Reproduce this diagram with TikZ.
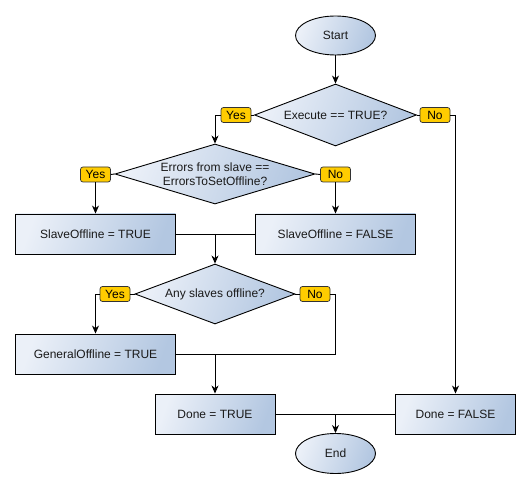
\documentclass[tikz,border=0pt]{standalone}
\usepackage{fontspec}
\setmainfont{Liberation Sans}
\usetikzlibrary{shapes.geometric,arrows.meta,calc}
\definecolor{gl}{HTML}{EBF0F8}
\definecolor{gd}{HTML}{B3C7E1}
\definecolor{lab}{HTML}{FFCC00}
\definecolor{txt}{HTML}{1A1A1A}
\tikzset{
  gshade/.style={left color=gl, right color=gd, shading angle=70, draw=black, line width=0.9pt},
  procbox/.style={gshade, rectangle, minimum width=#1, minimum height=40pt, inner sep=0pt, text=txt, font=\fontsize{12}{14}\selectfont},
  procbox/.default=160pt,
  term/.style={gshade, ellipse, minimum width=80pt, minimum height=39pt, inner sep=0pt, text=txt, font=\fontsize{12}{14}\selectfont},
  dia/.style={gshade, diamond, inner sep=0pt},
  diatext/.style={align=center, text=txt, font=\fontsize{12}{14.5}\selectfont, inner sep=0pt},
  yn/.style={draw=black!80, fill=lab, rounded corners=2.5pt, minimum width=30pt, minimum height=15pt, inner sep=0pt, line width=0.7pt, font=\fontsize{12}{14}\selectfont},
  conn/.style={line width=0.9pt, draw=black},
  arr/.style={conn, -{Stealth[length=8pt,width=7pt,inset=2.5pt]}},
}
\begin{document}
\begin{tikzpicture}[x=1pt,y=-1pt]
\useasboundingbox (0,0) rectangle (530,489);
% terminals
\node[term] (start) at (335.5,35.5) {Start};
\node[term, minimum height=40pt] (end) at (335.5,453.5) {End};
% decision 1
\node[dia, minimum width=162pt, minimum height=62pt] (d1) at (335.5,115) {};
\node[diatext] (d1t) at (d1) {Execute == TRUE?};
\node[yn] (y1) at (236,115) {Yes};
\node[yn] (n1) at (435,115) {No};
% decision 2
\node[dia, minimum width=200pt, minimum height=60pt] (d2) at (215,174) {};
\node[diatext] (d2t) at (d2) {Errors from slave ==\\ErrorsToSetOffline?};
\node[yn] (y2) at (95.5,174.5) {Yes};
\node[yn] (n2) at (335.5,174.5) {No};
% boxes 1, 2
\node[procbox] (b1) at (95.5,234) {SlaveOffline = TRUE};
\node[procbox] (b2) at (335.5,234) {SlaveOffline = FALSE};
% decision 3
\node[dia, minimum width=160pt, minimum height=60pt] (d3) at (215,294) {};
\node[diatext] (d3t) at (d3) {Any slaves offline?};
\node[yn] (y3) at (115,294) {Yes};
\node[yn] (n3) at (315,294) {No};
% box 3
\node[procbox] (b3) at (95.5,354) {GeneralOffline = TRUE};
% done boxes
\node[procbox=120pt] (dt) at (215,414) {Done = TRUE};
\node[procbox=120pt] (df) at (455.5,414) {Done = FALSE};
% junction coordinates
\coordinate (m1) at (b1.east -| d3.north);
\coordinate (m2) at (b3.east -| dt.north);
\coordinate (m3) at (dt.east -| end.north);
% connectors
\draw[arr] (start) -- (d1);
\draw[conn] (d1.west) -- (y1.east);
\draw[arr] (y1.west) -| (d2.north);
\draw[conn] (d1.east) -- (n1.west);
\draw[arr] (n1.east) -| (df.north);
\draw[conn] (d2.west) -- (y2.east);
\draw[arr] (y2.south) -- (b1.north);
\draw[conn] (d2.east) -- (n2.west);
\draw[arr] (n2.south) -- (b2.north);
\draw[conn] (b1.east) -- (b2.west);
\draw[arr] (m1) -- (d3.north);
\draw[conn] (d3.west) -- (y3.east);
\draw[arr] (y3.west) -| (b3.north);
\draw[conn] (d3.east) -- (n3.west);
\draw[conn] (n3.east) -| (b2.south |- m2) -- (m2);
\draw[conn] (b3.east) -- (m2);
\draw[arr] (m2) -- (dt.north);
\draw[conn] (dt.east) -- (df.west);
\draw[arr] (m3) -- (end.north);
\end{tikzpicture}
\end{document}
